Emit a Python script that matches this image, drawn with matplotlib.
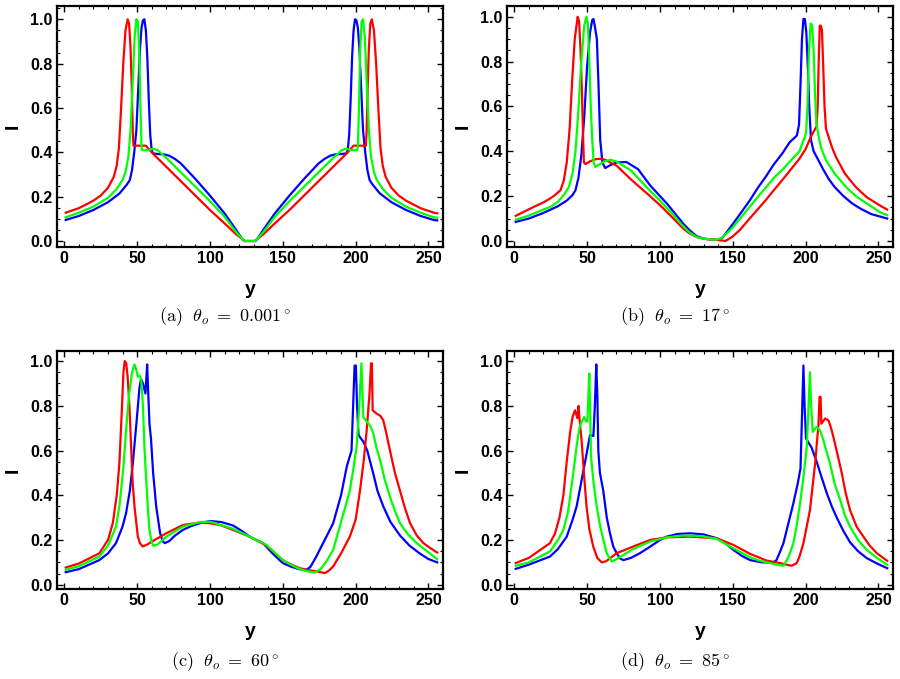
import numpy as np
import matplotlib
matplotlib.use("Agg")
import matplotlib.pyplot as plt
from matplotlib.ticker import MultipleLocator

plt.rcParams["mathtext.fontset"] = "cm"
plt.rcParams["font.family"] = ["Liberation Sans", "DejaVu Sans"]

# ---------------- panel (a): theta_o = 0.001 deg ----------------
a_blue_x = [1, 10, 20, 30, 38, 43, 45, 46.5, 48, 49.5, 51, 52, 53, 54, 55, 56, 57, 58, 59, 60, 61, 65, 69, 72, 76, 80,
            90, 100, 110, 118, 122.5, 123.5, 131.1, 132.1, 136.6, 144.6, 154.6, 164.6, 174.6, 178.6, 182.6, 185.6,
            189.6, 193.6, 194.6, 195.6, 196.6, 197.6, 198.6, 199.6, 200.6, 201.6, 202.6, 203.6, 205.1, 206.6, 208.1,
            209.6, 211.6, 216.6, 224.6, 234.6, 244.6, 253.6, 256]
a_blue_y = [0.095, 0.113, 0.14, 0.175, 0.215, 0.255, 0.275, 0.32, 0.40, 0.5, 0.72, 0.87, 0.96, 0.995, 1.0, 0.95, 0.83,
            0.64, 0.48, 0.41, 0.395, 0.392, 0.39, 0.385, 0.37, 0.35, 0.28, 0.205, 0.125, 0.05, 0.005, 0.0, 0.0, 0.005,
            0.05, 0.125, 0.205, 0.28, 0.35, 0.37, 0.385, 0.39, 0.392, 0.395, 0.41, 0.48, 0.64, 0.83, 0.95, 1.0, 0.995,
            0.96, 0.87, 0.72, 0.5, 0.40, 0.32, 0.275, 0.255, 0.215, 0.175, 0.14, 0.113, 0.095, 0.093]
a_green_x = [1, 10, 20, 30, 36, 40, 42, 44, 45.5, 47, 48.3, 49.5, 50.5, 51.5, 52.3, 53, 53.5, 58, 61, 64, 70, 80, 90,
             100, 110, 118, 123.5, 131.1, 136.6, 144.6, 154.6, 164.6, 174.6, 184.6, 190.6, 193.6, 196.6, 201.1, 201.6,
             202.3, 203.1, 204.1, 205.1, 206.3, 207.6, 209.1, 210.6, 212.6, 214.6, 218.6, 224.6, 234.6, 244.6, 253.6,
             256]
a_green_y = [0.107, 0.128, 0.155, 0.195, 0.235, 0.275, 0.31, 0.38, 0.5, 0.72, 0.92, 1.0, 0.99, 0.85, 0.6, 0.43, 0.41,
             0.41, 0.417, 0.41, 0.375, 0.31, 0.245, 0.18, 0.11, 0.04, 0.0, 0.0, 0.04, 0.11, 0.18, 0.245, 0.31, 0.375,
             0.41, 0.417, 0.41, 0.41, 0.43, 0.6, 0.85, 0.99, 1.0, 0.92, 0.72, 0.5, 0.38, 0.31, 0.275, 0.235, 0.195,
             0.155, 0.128, 0.107, 0.105]
a_red_x = [1, 10, 20, 25, 30, 34, 36, 37.5, 39, 40.5, 42, 43.5, 44.5, 45.5, 46.3, 47, 47.5, 56, 58, 60, 70, 80, 90, 100,
           110, 118, 124, 130.6, 136.6, 144.6, 154.6, 164.6, 174.6, 184.6, 194.6, 196.6, 198.6, 207.1, 207.6, 208.3,
           209.1, 210.1, 211.1, 212.6, 214.1, 215.6, 217.1, 218.6, 220.6, 224.6, 229.6, 234.6, 244.6, 253.6, 256]
a_red_y = [0.128, 0.148, 0.182, 0.205, 0.24, 0.29, 0.34, 0.42, 0.6, 0.8, 0.95, 1.0, 0.98, 0.87, 0.7, 0.5, 0.43, 0.43,
           0.415, 0.4, 0.335, 0.27, 0.205, 0.14, 0.08, 0.03, 0.0, 0.0, 0.03, 0.08, 0.14, 0.205, 0.27, 0.335, 0.4, 0.415,
           0.43, 0.43, 0.5, 0.7, 0.87, 0.98, 1.0, 0.95, 0.8, 0.6, 0.42, 0.34, 0.29, 0.24, 0.205, 0.182, 0.148, 0.128,
           0.125]

# ---------------- panel (b): theta_o = 17 deg ----------------
b_blue_x = [1, 10, 20, 30, 36, 40, 42, 44, 46, 48, 50, 52, 53.5, 54.4, 55.5, 56.7, 57.8, 59, 60.5, 62.4, 65, 70, 77,
            85, 93, 100, 105, 110, 116, 120, 125, 130, 135, 140, 143, 150, 155, 161.6, 167, 173, 178, 184, 189, 194,
            195.5, 196.5, 197.5, 198.5, 199.5, 200.5, 201.5, 202.5, 203.7, 205.5, 208, 212, 216, 220, 226, 232, 238,
            245, 256]
b_blue_y = [0.085, 0.1, 0.125, 0.155, 0.18, 0.205, 0.226, 0.28, 0.38, 0.55, 0.78, 0.93, 0.985, 0.99, 0.95, 0.9, 0.7,
            0.45, 0.35, 0.325, 0.335, 0.35, 0.352, 0.32, 0.25, 0.2, 0.165, 0.125, 0.077, 0.05, 0.022, 0.01, 0.006,
            0.005, 0.015, 0.075, 0.12, 0.18, 0.235, 0.29, 0.34, 0.39, 0.44, 0.47, 0.52, 0.7, 0.9, 0.99, 0.99, 0.93,
            0.78, 0.6, 0.45, 0.4, 0.37, 0.32, 0.275, 0.24, 0.2, 0.167, 0.143, 0.12, 0.1]
b_green_x = [1, 10, 20, 25, 30, 34, 37.4, 40, 42, 44, 46, 48, 49.5, 50.5, 51.5, 52.5, 53.5, 54.5, 55.6, 58, 62, 66, 70,
             80, 93, 100, 110, 116, 120, 125, 130, 138, 142, 146, 150, 155, 161.6, 167, 173, 178, 184.4, 190, 195.8,
             200.3, 201.3, 202.3, 203.5, 204.5, 205.5, 206.5, 207.5, 209.4, 211, 214, 220, 227.8, 235, 243.8, 250.6,
             256]
b_green_y = [0.095, 0.113, 0.14, 0.152, 0.175, 0.205, 0.24, 0.3, 0.4, 0.58, 0.8, 0.96, 1.0, 0.97, 0.8, 0.6, 0.45,
             0.35, 0.33, 0.34, 0.355, 0.362, 0.355, 0.315, 0.225, 0.18, 0.11, 0.065, 0.04, 0.018, 0.01, 0.005, 0.012,
             0.035, 0.06, 0.1, 0.152, 0.195, 0.24, 0.28, 0.32, 0.36, 0.40, 0.479, 0.6, 0.85, 0.97, 0.96, 0.85, 0.65,
             0.52, 0.45, 0.41, 0.36, 0.3, 0.24, 0.197, 0.16, 0.13, 0.115]
b_red_x = [1, 13.4, 20, 24.8, 28, 31.7, 34, 36, 38, 39.6, 41.5, 43.5, 44.5, 45.5, 46.5, 47.3, 47.8, 48.8, 52, 56, 60,
           63, 70.4, 80, 93.2, 100, 110, 116, 120, 125, 130, 138, 145, 150, 155, 161.6, 167, 173, 178, 184.4, 190,
           195.8, 200, 204, 207.5, 208.3, 209, 209.7, 210.5, 211.2, 212, 213, 214, 215.5, 218, 220.8, 227, 234.5, 242,
           250.5, 256]
b_red_y = [0.112, 0.152, 0.172, 0.19, 0.205, 0.226, 0.27, 0.35, 0.5, 0.7, 0.9, 1.0, 0.98, 0.85, 0.65, 0.45, 0.35,
           0.343, 0.355, 0.365, 0.367, 0.36, 0.335, 0.275, 0.2, 0.16, 0.095, 0.055, 0.035, 0.018, 0.01, 0.005, 0.0,
           0.02, 0.05, 0.1, 0.14, 0.185, 0.225, 0.275, 0.32, 0.367, 0.41, 0.47, 0.51, 0.6, 0.8, 0.96, 0.96, 0.94, 0.8,
           0.6, 0.5, 0.47, 0.42, 0.375, 0.3, 0.24, 0.195, 0.16, 0.14]

# ---------------- panel (c): theta_o = 60 deg ----------------
c_blue_x = [1, 10, 24, 30, 35.5, 40, 42.4, 45, 47, 49.5, 51.6, 52.7, 54, 55.7, 56.3, 56.9, 57.5, 58.5, 59.6, 61, 63.1,
            65.8, 67.5, 69, 72, 76, 81.4, 87, 93, 100, 108, 115.8, 122, 127.3, 132, 136.5, 143, 150, 156, 161.7, 166.3,
            169, 173, 178, 184.6, 190, 194, 197.2, 198.3, 199.3, 200.2, 201, 202, 203.5, 205.3, 208, 212, 215, 219,
            224, 230.5, 237, 244, 250, 256]
c_blue_y = [0.056, 0.07, 0.11, 0.14, 0.186, 0.26, 0.32, 0.42, 0.54, 0.72, 0.88, 0.92, 0.9, 0.855, 0.92, 0.985, 0.88,
            0.72, 0.646, 0.5, 0.35, 0.23, 0.195, 0.186, 0.195, 0.22, 0.245, 0.262, 0.275, 0.285, 0.28, 0.265, 0.24,
            0.215, 0.2, 0.186, 0.14, 0.097, 0.08, 0.069, 0.067, 0.08, 0.126, 0.19, 0.275, 0.4, 0.53, 0.6, 0.8, 0.98,
            0.98, 0.8, 0.67, 0.655, 0.64, 0.6, 0.5, 0.42, 0.35, 0.28, 0.22, 0.175, 0.14, 0.115, 0.1]
c_green_x = [1, 10, 24, 30, 35.5, 38, 40.5, 42.4, 44.5, 46.5, 48.2, 49.5, 50.5, 51.6, 52.8, 54, 55, 56.2, 57.5, 58.5,
             60, 61.2, 64, 70, 81.4, 92.9, 100, 115.8, 127.3, 138.8, 150, 156, 161.7, 167, 172, 176, 180, 184.6, 190,
             196, 198.5, 200.7, 202.5, 204, 205.3, 207.6, 210, 212, 214.4, 216.7, 220, 223.6, 227, 230.5, 236, 242,
             249, 256]
c_green_y = [0.067, 0.083, 0.126, 0.175, 0.26, 0.36, 0.52, 0.69, 0.85, 0.95, 0.985, 0.96, 0.93, 0.935, 0.92, 0.8, 0.62,
             0.47, 0.33, 0.245, 0.19, 0.174, 0.18, 0.215, 0.26, 0.28, 0.282, 0.25, 0.215, 0.178, 0.11, 0.088, 0.07,
             0.06, 0.055, 0.07, 0.105, 0.156, 0.28, 0.42, 0.52, 0.617, 0.8, 0.99, 0.75, 0.73, 0.71, 0.68, 0.61, 0.56,
             0.47, 0.394, 0.33, 0.275, 0.225, 0.186, 0.15, 0.114]
c_red_x = [1, 10, 24, 30, 33.3, 36, 37.8, 39.3, 40.6, 41.5, 42.5, 43.5, 44.7, 46, 47, 48.2, 50.5, 52, 53.9, 57, 62, 70,
           81.4, 92.9, 100, 108, 115.8, 127.3, 138.8, 150, 156, 161.7, 167, 173, 179, 182, 184.6, 190, 196, 200, 203,
           205.5, 207.6, 209.5, 210.6, 211.2, 211.7, 214.4, 217, 219, 221, 223.6, 227, 230.5, 234, 237.4, 242, 246.6,
           251, 256]
c_red_y = [0.077, 0.095, 0.14, 0.2, 0.275, 0.4, 0.54, 0.75, 0.95, 1.0, 0.99, 0.93, 0.8, 0.6, 0.45, 0.35, 0.215, 0.185,
           0.171, 0.18, 0.2, 0.23, 0.267, 0.278, 0.275, 0.265, 0.245, 0.215, 0.175, 0.11, 0.09, 0.074, 0.066, 0.06,
           0.052, 0.065, 0.082, 0.14, 0.215, 0.29, 0.42, 0.55, 0.69, 0.85, 0.99, 0.99, 0.78, 0.765, 0.755, 0.735,
           0.68, 0.6, 0.5, 0.42, 0.34, 0.275, 0.22, 0.186, 0.165, 0.144]

# ---------------- panel (d): theta_o = 85 deg ----------------
d_blue_x = [1, 10, 24.5, 30, 36, 40, 42.8, 46, 49.7, 52, 54.3, 55.3, 56.3, 57, 57.7, 58.8, 61.1, 63.5, 65.7, 68, 70.3,
            72.5, 74.9, 80, 86, 93.2, 100, 104.6, 112, 120.7, 130, 139, 145, 150.4, 156, 161.9, 170, 177.9, 180, 182.3,
            184.8, 188, 191.6, 194.5, 196.5, 197.5, 198.5, 199.3, 200.3, 202, 204, 207.6, 211, 214.5, 218, 221.4, 226,
            230.5, 236, 242, 249, 256]
d_blue_y = [0.071, 0.09, 0.126, 0.16, 0.215, 0.29, 0.35, 0.46, 0.587, 0.67, 0.665, 0.8, 0.985, 0.85, 0.6, 0.5, 0.42,
            0.3, 0.23, 0.17, 0.141, 0.118, 0.11, 0.12, 0.14, 0.17, 0.2, 0.215, 0.227, 0.23, 0.225, 0.208, 0.185, 0.156,
            0.13, 0.11, 0.1, 0.1, 0.11, 0.145, 0.186, 0.27, 0.364, 0.45, 0.52, 0.75, 0.98, 0.8, 0.654, 0.635, 0.615,
            0.55, 0.48, 0.41, 0.35, 0.3, 0.24, 0.19, 0.15, 0.119, 0.095, 0.074]
d_green_x = [1, 10, 24.5, 30, 33.7, 37, 40.5, 43, 45, 47.9, 49.3, 50.2, 50.9, 51.5, 52, 52.7, 54.5, 56.6, 59, 61.2,
             63.5, 66.9, 70.3, 81.7, 93.2, 104.6, 116.1, 128, 139, 150.4, 161.9, 168, 175.6, 180, 184.8, 188, 191.6,
             194, 196.2, 198.5, 200.8, 202, 203, 203.8, 204.9, 207.6, 209.9, 212, 216.8, 220, 223.7, 227, 230.5, 236,
             242, 249, 256]
d_green_y = [0.085, 0.1, 0.149, 0.2, 0.245, 0.33, 0.5, 0.63, 0.71, 0.75, 0.73, 0.73, 0.85, 0.944, 0.8, 0.572, 0.45,
             0.35, 0.26, 0.2, 0.14, 0.104, 0.115, 0.16, 0.193, 0.212, 0.22, 0.218, 0.205, 0.163, 0.123, 0.108, 0.097,
             0.09, 0.085, 0.12, 0.186, 0.27, 0.364, 0.48, 0.617, 0.8, 0.95, 0.8, 0.683, 0.706, 0.69, 0.65, 0.54, 0.45,
             0.38, 0.31, 0.26, 0.2, 0.156, 0.12, 0.089]
d_red_x = [1, 10, 24.5, 28, 31, 33.7, 36, 38.3, 40, 41.7, 43.3, 44.1, 44.8, 46.2, 47.8, 49.6, 51.5, 54.2, 57, 60, 63,
           70.3, 81.7, 93.2, 104.6, 120.7, 139, 150.4, 161.9, 173.3, 182.5, 188, 190.5, 193.9, 196, 198.5, 203, 206.5,
           208.8, 209.6, 210.3, 210.8, 213.4, 215.7, 217.5, 219.1, 222, 224.8, 227.5, 230.5, 235, 239.7, 244, 248.9,
           256]
d_red_y = [0.097, 0.12, 0.186, 0.23, 0.3, 0.4, 0.55, 0.68, 0.75, 0.78, 0.745, 0.8, 0.74, 0.646, 0.5, 0.35, 0.25, 0.171,
           0.12, 0.1, 0.105, 0.141, 0.171, 0.2, 0.212, 0.215, 0.208, 0.178, 0.138, 0.108, 0.097, 0.088, 0.085, 0.097,
           0.13, 0.186, 0.334, 0.54, 0.713, 0.84, 0.84, 0.72, 0.743, 0.735, 0.7, 0.66, 0.58, 0.5, 0.41, 0.334, 0.26,
           0.215, 0.175, 0.141, 0.107]

captions = [r"$\mathrm{(a)}\ \ \theta_o\ =\ 0.001^\circ$", r"$\mathrm{(b)}\ \ \theta_o\ =\ 17^\circ$",
            r"$\mathrm{(c)}\ \ \theta_o\ =\ 60^\circ$", r"$\mathrm{(d)}\ \ \theta_o\ =\ 85^\circ$"]

curves = [
    [(a_blue_x, a_blue_y), (a_red_x, a_red_y), (a_green_x, a_green_y)],
    [(b_blue_x, b_blue_y), (b_red_x, b_red_y), (b_green_x, b_green_y)],
    [(c_blue_x, c_blue_y), (c_red_x, c_red_y), (c_green_x, c_green_y)],
    [(d_blue_x, d_blue_y), (d_red_x, d_red_y), (d_green_x, d_green_y)],
]
colors = ["#0000ff", "#ff0000", "#00ff00"]

W, H = 900, 679
fig = plt.figure(figsize=(W / 100, H / 100), dpi=100)

# frame boxes in pixels: (left, top, right, bottom)
boxes = [(57, 6, 443, 247), (507, 6, 893, 247), (57, 351, 443, 589), (507, 351, 893, 589)]
ylims = [(-0.027, 1.06), (-0.027, 1.048), (-0.019, 1.045), (-0.019, 1.045)]
caption_pos = [(225, 317), (675, 317), (225, 662), (675, 662)]

for i in range(4):
    l, t, r, b = boxes[i]
    ax = fig.add_axes([l / W, 1 - b / H, (r - l) / W, (b - t) / H])
    for (x, y), c in zip(curves[i], colors):
        ax.plot(x, y, color=c, lw=1.6, solid_joinstyle="round")
    ax.set_xlim(-5, 260)
    ax.set_ylim(*ylims[i])
    ax.xaxis.set_major_locator(MultipleLocator(50))
    ax.xaxis.set_minor_locator(MultipleLocator(10))
    ax.yaxis.set_major_locator(MultipleLocator(0.2))
    ax.yaxis.set_minor_locator(MultipleLocator(0.05))
    ax.yaxis.set_major_formatter(plt.FuncFormatter(lambda v, p: "%.1f" % v))
    ax.tick_params(which="both", direction="in", top=True, right=True, width=1.0)
    ax.tick_params(which="major", length=4, labelsize=11.5, pad=3)
    ax.tick_params(which="minor", length=2.2, width=0.8)
    for lab in ax.get_xticklabels() + ax.get_yticklabels():
        lab.set_fontweight("bold")
    for s in ax.spines.values():
        s.set_linewidth(1.6)
    ax.text(0.5, -(35 + 8) / (b - t), "y", transform=ax.transAxes, ha="center", va="center",
            fontsize=14, fontweight="bold")
    ax.text(-44 / (r - l), 0.5, "I", transform=ax.transAxes, ha="center", va="center",
            fontsize=14, fontweight="bold", rotation=90)
    cx, cy = caption_pos[i]
    fig.text(cx / W, 1 - cy / H, captions[i], ha="center", va="center", fontsize=13)

plt.savefig("out.png", dpi=100)
